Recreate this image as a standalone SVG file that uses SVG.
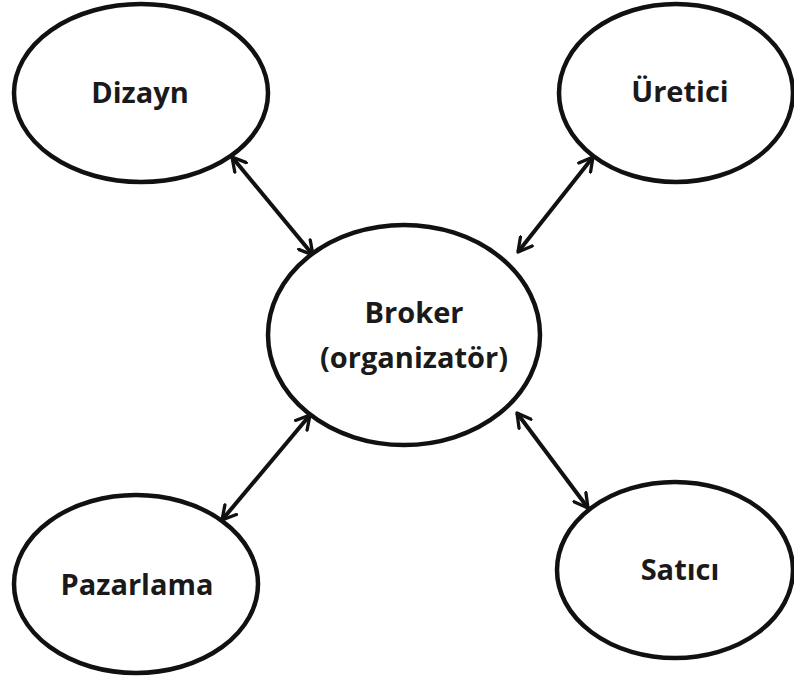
<svg xmlns="http://www.w3.org/2000/svg" width="794" height="677" viewBox="0 0 794 677">
<style>
.n{fill:#fff;stroke:#111;stroke-width:4.5}
.t{font-family:"Open Sans","DejaVu Sans",sans-serif;font-weight:bold;font-size:29px;fill:#1a1a1a;text-anchor:middle}
.c{stroke:#111;stroke-width:4;fill:none;marker-start:url(#ah);marker-end:url(#ah)}
</style>
<defs>
<marker id="ah" viewBox="0 0 12 12" refX="10" refY="6" markerWidth="4.5" markerHeight="4.5" orient="auto-start-reverse" markerUnits="strokeWidth">
<path d="M1,1 L10,6 L1,11" fill="none" stroke="#111" stroke-width="2.2" stroke-linecap="round" stroke-linejoin="round"/>
</marker>
</defs>
<rect width="794" height="677" fill="#fff"/>
<g id="connectors">
<line class="c" x1="232" y1="157" x2="313" y2="255"/>
<line class="c" x1="593" y1="157" x2="518" y2="252"/>
<line class="c" x1="222" y1="520" x2="310" y2="415"/>
<line class="c" x1="588" y1="508" x2="517" y2="413"/>
</g>
<g id="dizayn"><ellipse class="n" cx="141" cy="93" rx="127" ry="89"/><text class="t" x="140" y="103">Dizayn</text></g>
<g id="uretici"><ellipse class="n" cx="676" cy="93" rx="117" ry="89"/><text class="t" x="680" y="102">Üretici</text></g>
<g id="broker"><ellipse class="n" cx="404" cy="335" rx="136" ry="110"/><text class="t" x="414" y="323">Broker</text><text class="t" x="414" y="368">(organizatör)</text></g>
<g id="pazarlama"><ellipse class="n" cx="136" cy="584" rx="122" ry="89"/><text class="t" x="137" y="595">Pazarlama</text></g>
<g id="satici"><ellipse class="n" cx="675" cy="570" rx="118" ry="88"/><text class="t" x="680" y="580">Satıcı</text></g>
</svg>
